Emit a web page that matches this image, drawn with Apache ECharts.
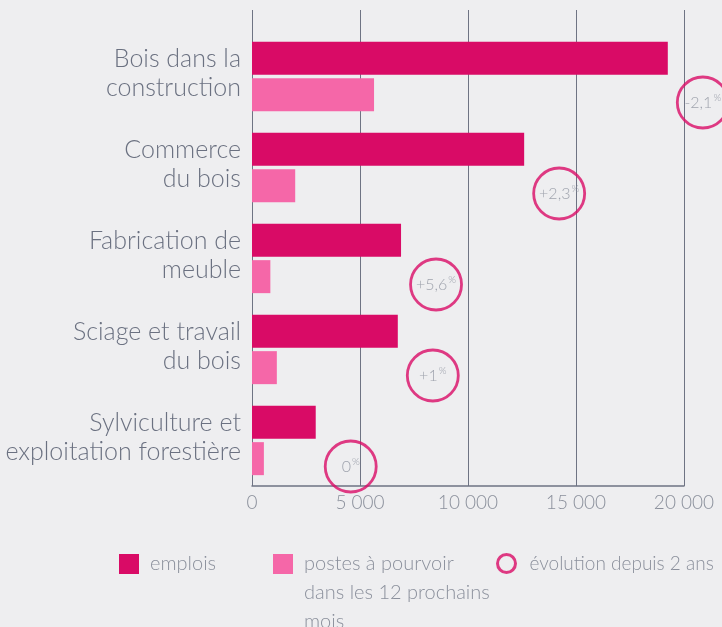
<!DOCTYPE html>
<html>
  <head>
    <title></title>
    <meta charset="UTF-8" />
    <script src="https://cdn.jsdelivr.net/npm/echarts@6/dist/echarts.min.js"></script>
    <style>
      html, body { margin: 0; padding: 0; background: #eeeef0; }
    </style>
  </head>
  <body>
    <div id="main"></div>
    <script>
      const width = 722;
      const height = 627;
      const main = document.getElementById('main');
      main.style.width = `${width}px`;
      main.style.height = `${height}px`;

      const categories = [
        'Bois dans la\nconstruction',
        'Commerce\ndu bois',
        'Fabrication de\nmeuble',
        'Sciage et travail\ndu bois',
        'Sylviculture et\nexploitation forestière',
      ];
      const emplois = [19250, 12600, 6900, 6750, 2950];
      const postes = [5650, 2000, 850, 1150, 550];
      const evolution = [-2.1, 2.3, 5.6, 1, 0];
      const xTicks = [0, 5000, 10000, 15000, 20000];

      const names = {
        emplois: 'emplois',
        postes: 'postes à pourvoir\ndans les 12 prochains\nmois',
        evolution: 'évolution depuis 2 ans',
      };

      const FONT = 'Lato';
      const DARK = '#d90b66';
      const LIGHT = '#f567a8';
      const AXIS = '#6e7383';
      const TEXT = '#6b7181';
      const SOFT = '#8b909c';

      const fmtNum = (v) => String(v).replace(/\B(?=(\d{3})+(?!\d))/g, ' ');
      const fmtEvo = (v) => (v > 0 ? '+' : '') + String(v).replace('.', ',');
      // a short empty line under the label lifts it a little above the bar pair's center
      const fmtCat = (v) => v.split('\n').map((s) => '{t|' + s + '}').join('\n') + '\n{s|}';

      const legendText = {
        fontFamily: FONT,
        fontWeight: 300,
        fontSize: 20,
        color: SOFT,
        lineHeight: 20,
        padding: [0, 0, 0, 6],
      };

      const myChart = echarts.init(main);
      const option = {
        backgroundColor: '#eeeef0',
        animation: false,
        grid: [
          { left: 252, width: 432, top: 31, height: 455 },
          { left: 252, width: 432, top: 10, height: 476 },
        ],
        legend: [
          {
            left: 119,
            top: 554,
            padding: 0,
            itemWidth: 20,
            itemHeight: 20,
            data: [{ name: names.emplois, icon: 'rect' }],
            textStyle: legendText,
          },
          {
            // two blank lines on top keep the first line level with the icon
            left: 273,
            top: 491.5,
            padding: 0,
            itemWidth: 20,
            itemHeight: 20,
            formatter: (n) => '\n\n' + n,
            data: [{ name: names.postes, icon: 'rect' }],
            textStyle: Object.assign({}, legendText, { lineHeight: 29 }),
          },
          {
            left: 496,
            top: 553,
            padding: 0,
            itemWidth: 18,
            itemHeight: 18,
            data: [
              {
                name: names.evolution,
                icon: 'circle',
                itemStyle: { color: 'transparent', borderColor: DARK, borderWidth: 3 },
              },
            ],
            textStyle: Object.assign({}, legendText, { fontSize: 19, padding: [0, 0, 0, 9] }),
          },
        ],
        xAxis: [
          {
            gridIndex: 0,
            type: 'value',
            min: 0,
            max: 20000,
            show: false,
          },
          {
            gridIndex: 1,
            type: 'value',
            min: xTicks[0],
            max: xTicks[xTicks.length - 1],
            interval: xTicks[1] - xTicks[0],
            axisLine: { show: true, lineStyle: { color: AXIS, width: 1.5 } },
            axisTick: { show: false },
            splitLine: { show: true, lineStyle: { color: AXIS, width: 1 } },
            axisLabel: {
              margin: 7,
              fontFamily: FONT,
              fontWeight: 300,
              fontSize: 19,
              color: SOFT,
              formatter: fmtNum,
            },
          },
        ],
        yAxis: [
          {
            gridIndex: 0,
            type: 'category',
            inverse: true,
            data: categories,
            axisLine: { show: false },
            axisTick: { show: false },
            splitLine: { show: false },
            axisLabel: {
              margin: 11,
              align: 'right',
              formatter: fmtCat,
              rich: {
                t: {
                  fontFamily: FONT,
                  fontWeight: 300,
                  fontSize: 25,
                  lineHeight: 29,
                  color: TEXT,
                  align: 'right',
                },
                s: { fontSize: 1, lineHeight: 7 },
              },
            },
          },
          {
            gridIndex: 1,
            type: 'value',
            show: false,
          },
        ],
        series: [
          {
            name: names.emplois,
            type: 'bar',
            xAxisIndex: 0,
            yAxisIndex: 0,
            barWidth: 33,
            barGap: '10%',
            itemStyle: { color: DARK },
            data: emplois,
            z: 3,
          },
          {
            name: names.postes,
            type: 'bar',
            xAxisIndex: 0,
            yAxisIndex: 0,
            barWidth: 33,
            barGap: '10%',
            itemStyle: { color: LIGHT },
            data: postes,
            z: 3,
          },
          {
            // circles sit just right of the emplois bar, below its center
            name: names.evolution,
            type: 'scatter',
            xAxisIndex: 0,
            yAxisIndex: 0,
            clip: false,
            symbol: 'circle',
            symbolSize: 51,
            symbolOffset: [35, 26],
            itemStyle: { color: 'transparent', borderColor: DARK, borderWidth: 2.8 },
            label: {
              show: true,
              position: 'inside',
              formatter: (p) => '{v|' + fmtEvo(evolution[p.dataIndex]) + '}{p|%}',
              rich: {
                v: { fontFamily: FONT, fontWeight: 300, fontSize: 16, color: SOFT },
                p: { fontFamily: FONT, fontWeight: 300, fontSize: 10, color: SOFT, padding: [0, 0, 9, 1] },
              },
            },
            data: emplois.map((v, i) => [v, categories[i]]),
            z: 5,
          },
        ],
      };
      myChart.setOption(option);
    </script>
  </body>
</html>
